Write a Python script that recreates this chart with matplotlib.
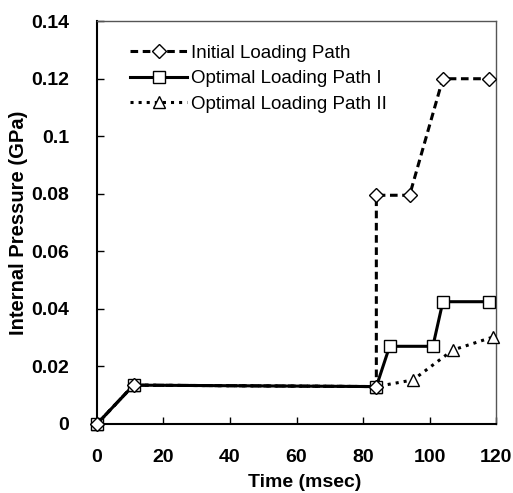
import matplotlib
matplotlib.use("Agg")
import matplotlib.pyplot as plt

# data
t_init = [0, 11, 84, 84, 94, 104, 118]
p_init = [0, 0.0135, 0.013, 0.0795, 0.0795, 0.12, 0.12]

t_opt1 = [0, 11, 84, 88, 101, 104, 118]
p_opt1 = [0, 0.0135, 0.013, 0.027, 0.027, 0.0425, 0.0425]

t_opt2 = [0, 11, 84, 95, 107, 119]
p_opt2 = [0, 0.0135, 0.013, 0.0153, 0.0257, 0.0302]

labels = ["Initial Loading Path", "Optimal Loading Path I", "Optimal Loading Path II"]

plt.rcParams['font.family'] = ['Liberation Sans', 'DejaVu Sans']

fig = plt.figure(figsize=(5.13, 4.93), dpi=100)
ax = fig.add_axes([0.189, 0.140, 0.778, 0.817])

ax.plot(t_opt2, p_opt2, color='black', linestyle=':', linewidth=2.2, marker='^',
        markersize=8, markerfacecolor='white', markeredgecolor='black',
        clip_on=False, zorder=3, label=labels[2])
ax.plot(t_opt1, p_opt1, color='black', linestyle='-', linewidth=2.2, marker='s',
        markersize=8, markerfacecolor='white', markeredgecolor='black',
        clip_on=False, zorder=3, label=labels[1])
ax.plot(t_init, p_init, color='black', linestyle='--', linewidth=2.2, marker='D',
        markersize=7, markerfacecolor='white', markeredgecolor='black',
        dashes=(2.5, 1.5), clip_on=False, zorder=3, label=labels[0])

ax.set_xlim(0, 120)
ax.set_ylim(0, 0.14)
ax.set_xticks([0, 20, 40, 60, 80, 100, 120])
ax.set_yticks([0, 0.02, 0.04, 0.06, 0.08, 0.1, 0.12, 0.14])
ax.set_yticklabels(['0', '0.02', '0.04', '0.06', '0.08', '0.1', '0.12', '0.14'])
ax.tick_params(axis='y', direction='in', length=5, width=1, labelsize=14, pad=20)
ax.tick_params(axis='x', direction='in', length=5, width=1, labelsize=14, pad=18)
for lab in ax.get_xticklabels() + ax.get_yticklabels():
    lab.set_fontweight('bold')
for s in ax.spines.values():
    s.set_color('#555555')
    s.set_linewidth(1)
ax.spines['left'].set_color('black')
ax.spines['left'].set_linewidth(1.5)
ax.spines['bottom'].set_color('black')
ax.spines['bottom'].set_linewidth(1.5)

ax.set_xlabel("Time (msec)", fontsize=14, fontweight='bold')
ax.set_ylabel("Internal Pressure (GPa)", fontsize=14.5, fontweight='bold')
ax.xaxis.set_label_coords(0.52, -0.125)
ax.yaxis.set_label_coords(-0.172, 0.5)

handles, lbls = ax.get_legend_handles_labels()
ax.legend(handles[::-1], lbls[::-1], loc='upper left', bbox_to_anchor=(0.065, 0.96),
          frameon=False, fontsize=13.5, handlelength=3.0, handletextpad=0.25,
          labelspacing=0.45, borderaxespad=0)

fig.savefig("out.png", dpi=100)
